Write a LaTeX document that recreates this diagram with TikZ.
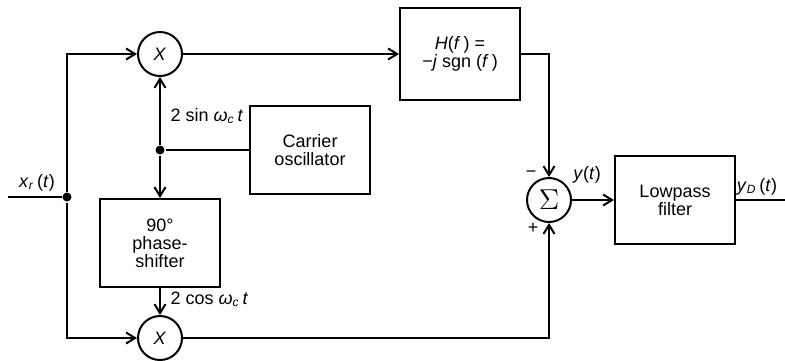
\documentclass[tikz,border=0pt]{standalone}
\usepackage{fontspec}
\setmainfont{Liberation Sans}
\usetikzlibrary{arrows.meta}

\tikzset{
  blk/.style={draw, minimum width=60pt, minimum height=44pt, align=center, inner sep=1pt},
  mult/.style={draw, circle, minimum size=22pt, inner sep=0pt},
  sig/.style={-{Straight Barb[length=4.5pt,width=5.5pt]}},
  dot/.style={circle, fill, inner sep=0pt, minimum size=4.5pt},
}

\begin{document}
\begin{tikzpicture}[x=0.5pt, y=-0.5pt, line width=1pt, font={\fontsize{9}{9}\selectfont}]
        \useasboundingbox (0,0) rectangle (785,360);
        % Multipliers and summer
        \node[mult] (m1) at (160,54) {\textit{X}};
        \node[mult] (m2) at (160,338) {\textit{X}};
        \node[mult] (sum) at (549,200) {\Large$\Sigma$};
        % Blocks
        \node[blk] (osc) at (310,150) {Carrier\\oscillator};
        \node[blk] (ps) at (160,243) {90°\\phase-\\shifter};
        \node[blk, minimum height=46pt] (hf) at (460,54) {\textit{H}(\textit{f}\,) =\\−\textit{j} sgn (\textit{f}\,)};
        \node[blk] (lpf) at (675,200) {Lowpass\\filter};
        % Branch points
        \coordinate (in) at (8,197);
        \node[dot] (j1) at (67,197) {};
        \node[dot] (j2) at (160,150) {};
        \coordinate (out) at (785,200);
        % Connectors
        \draw (in) -- (j1);
        \draw[sig] (j1) |- (m1);
        \draw[sig] (j1) |- (m2);
        \draw (j2) -- (osc);
        \draw[sig] (j2) -- (m1);
        \draw[sig] (j2) -- (ps);
        \draw[sig] (ps) -- (m2);
        \draw[sig] (m1) -- (hf);
        \draw[sig] (hf.east) -| (sum.north);
        \draw[sig] (m2.east) -| (sum.south);
        \draw[sig] (sum) -- (lpf);
        \draw (lpf) -- (out);
        % Labels
        \node (lxr) at (37,183) {\textit{x}\textsubscript{\textit{r}}\,(\textit{t})};
        \node[anchor=west] (lsin) at (163,116) {2 sin \textit{ω}\textsubscript{\textit{c}}\,\textit{t}};
        \node[anchor=west] (lcos) at (163,299) {2 cos \textit{ω}\textsubscript{\textit{c}}\,\textit{t}};
        \node (lminus) at (531,174) {−};
        \node (lplus) at (533,228) {+};
        \node (ly) at (587,175) {\textit{y}(\textit{t})};
        \node (lyd) at (757,187) {\textit{y}\textsubscript{\textit{D}}\,(\textit{t})};
    \end{tikzpicture}
\end{document}
